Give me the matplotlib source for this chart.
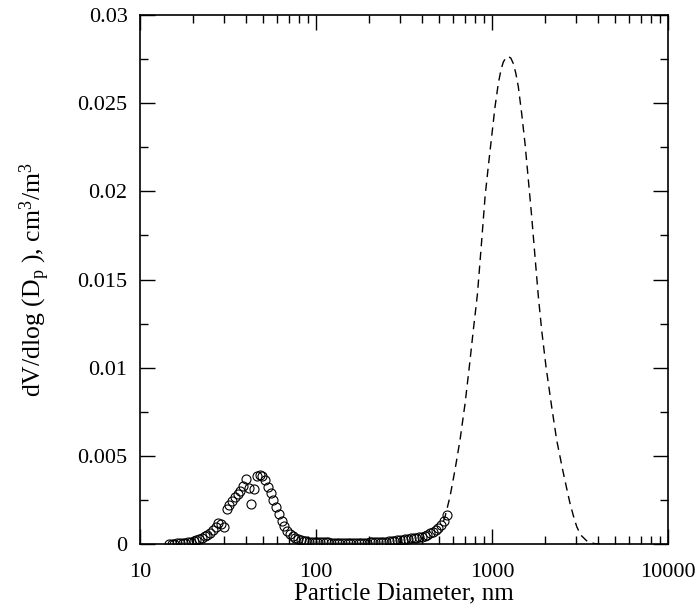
import numpy as np
import matplotlib
matplotlib.use("Agg")
import matplotlib.pyplot as plt
from matplotlib.ticker import FixedLocator, MultipleLocator, LogLocator, NullFormatter

# measured size distribution (open circles)
diam_meas = [14.6, 15.13, 15.69, 16.27, 16.86, 17.48, 18.12, 18.78, 19.47, 20.18,
             20.92, 21.69, 22.48, 23.31, 24.16, 25.05, 25.96, 26.91, 27.90, 28.92,
             29.98, 31.08, 32.22, 33.40, 34.62, 35.89, 37.21, 38.57, 39.98, 41.45,
             42.96, 44.54, 46.17, 47.86, 49.61, 51.43, 53.32, 55.27, 57.29, 59.39,
             61.57, 63.82, 66.16, 68.59, 71.10, 73.70, 76.40, 79.20, 82.11, 85.12,
             88.23, 91.47, 94.82, 98.29, 101.9, 105.6, 109.5, 113.5, 117.7, 122.0,
             126.4, 131.1, 135.9, 140.9, 146.0, 151.4, 156.9, 162.7, 168.6, 174.8,
             181.2, 187.8, 194.7, 201.9, 209.3, 216.9, 224.9, 233.1, 241.6, 250.5,
             259.7, 269.2, 279.0, 289.3, 299.9, 310.9, 322.2, 334.0, 346.3, 359.0,
             372.1, 385.8, 399.9, 414.6, 429.7, 445.5, 461.8, 478.7, 496.3, 514.5,
             533.3, 552.9]
dv_meas = [0.00001, 0.00002, 0.00002, 0.00003, 0.00005, 0.00006, 0.00008, 0.0001, 0.00014, 0.00018,
           0.00024, 0.0003, 0.00036, 0.00044, 0.00053, 0.00064, 0.00078, 0.00095, 0.00118, 0.00115,
           0.00096, 0.00197, 0.00222, 0.00246, 0.00265, 0.00285, 0.00302, 0.00328, 0.00366, 0.0032,
           0.00227, 0.00314, 0.00383, 0.00393, 0.00384, 0.00362, 0.00325, 0.00287, 0.00248, 0.00209,
           0.0017, 0.00133, 0.001, 0.00074, 0.00056, 0.00043, 0.00033, 0.00026, 0.00021, 0.00018,
           0.00016, 0.00014, 0.00013, 0.00012, 0.00011, 0.0001, 0.0001, 0.00009, 0.00009, 0.00008,
           0.00008, 0.00007, 0.00007, 0.00006, 0.00006, 0.00006, 0.00006, 0.00006, 0.00006, 0.00007,
           0.00007, 0.00008, 0.00008, 0.00009, 0.00009, 0.0001, 0.00011, 0.00012, 0.00013, 0.00014,
           0.00015, 0.00017, 0.00019, 0.00021, 0.00022, 0.00024, 0.00027, 0.0003, 0.00033, 0.00034,
           0.00036, 0.00038, 0.00041, 0.00046, 0.00052, 0.0006, 0.00068, 0.00078, 0.00092, 0.00108,
           0.0013, 0.00162]

# coarse mode (dashed line)
diam_fit = [530, 541, 577, 616, 658, 703, 743, 783, 826, 874, 913, 952, 995, 1040, 1086,
            1125, 1160, 1200, 1238, 1280, 1321, 1365, 1411, 1474, 1540, 1609, 1681, 1755,
            1833, 1915, 2027, 2183, 2330, 2521, 2650, 2774, 2900, 3030, 3200, 3452, 3650,
            3850, 4100]
dv_fit = [0.0013, 0.00155, 0.00268, 0.0042, 0.0059, 0.00797, 0.01005, 0.01213, 0.01415,
          0.01723, 0.01969, 0.02139, 0.02309, 0.02479, 0.02612, 0.02690, 0.02734, 0.02758,
          0.02765, 0.02755, 0.02725, 0.02670, 0.02593, 0.02442, 0.02271, 0.02064, 0.01856,
          0.01629, 0.01405, 0.01213, 0.01005, 0.00778, 0.0059, 0.0042, 0.0032, 0.00231,
          0.0016, 0.00098, 0.0005, 0.00018, 0.00007, 0.00002, 0.0]

xticks = [10, 100, 1000, 10000]
xticklabels = ["10", "100", "1000", "10000"]
yticks = [0, 0.005, 0.01, 0.015, 0.02, 0.025, 0.03]
yticklabels = ["0", "0.005", "0.01", "0.015", "0.02", "0.025", "0.03"]

plt.rcParams['font.family'] = ['Liberation Serif', 'DejaVu Serif']
plt.rcParams['mathtext.fontset'] = 'custom'
plt.rcParams['mathtext.rm'] = 'Liberation Serif'
plt.rcParams['mathtext.it'] = 'Liberation Serif:italic'

fig = plt.figure(figsize=(6.97, 6.12), dpi=100)
ax = fig.add_axes([0.2009, 0.1111, 0.7575, 0.8644])

ax.plot(diam_fit, dv_fit, color='black', lw=1.0, dashes=(6, 4))
ax.plot(diam_meas, dv_meas, linestyle='none', marker='o', markersize=6.5,
        markerfacecolor='none', markeredgecolor='black', markeredgewidth=0.8)

ax.set_xscale('log')
ax.set_xlim(10, 10000)
ax.set_ylim(0, 0.03)

ax.xaxis.set_major_locator(FixedLocator(xticks))
ax.set_xticklabels(xticklabels)
ax.xaxis.set_minor_locator(LogLocator(base=10, subs=np.arange(2, 10)))
ax.xaxis.set_minor_formatter(NullFormatter())
ax.set_yticks(yticks)
ax.set_yticklabels(yticklabels)
ax.yaxis.set_minor_locator(MultipleLocator(0.0025))

ax.tick_params(which='both', direction='in', top=True, right=True, labelsize=16, width=1)
ax.tick_params(which='major', length=11)
ax.tick_params(axis='y', which='major', pad=9)
ax.tick_params(axis='x', which='major', pad=14)
ax.tick_params(which='minor', length=6)
for s in ax.spines.values():
    s.set_linewidth(1.2)

ax.set_xlabel("Particle Diameter, nm", fontsize=18, labelpad=0)
ax.set_ylabel(r"dV/dlog (D$_\mathrm{p}$ ), cm$^\mathrm{3}$/m$^\mathrm{3}$", fontsize=18.5, labelpad=18)

fig.savefig("out.png", dpi=100)
